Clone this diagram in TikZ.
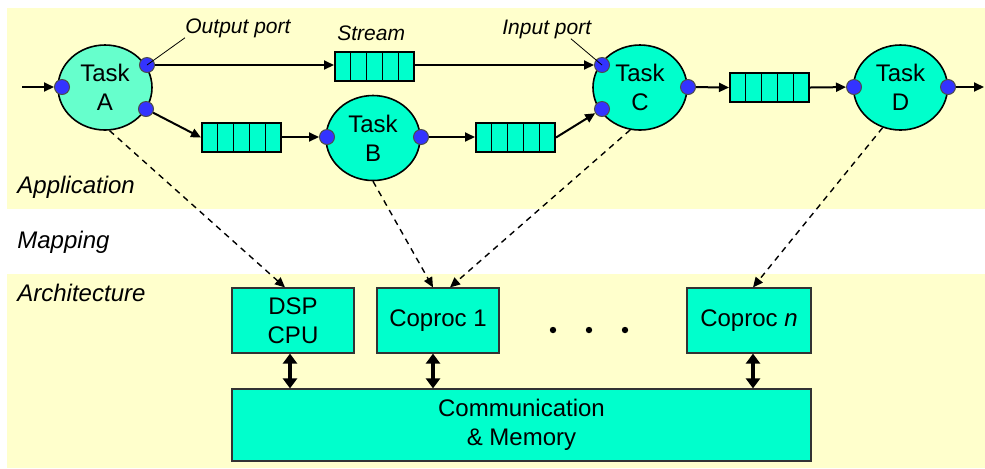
\documentclass[tikz,border=0pt]{standalone}
\usepackage{fontspec}
\setmainfont{Liberation Sans}
\usetikzlibrary{arrows.meta, shapes.geometric, calc}
\definecolor{appyellow}{HTML}{FFFFCC}
\definecolor{taskcyan}{HTML}{00FFCC}
\definecolor{tasklight}{HTML}{66FFCC}
\definecolor{portblue}{HTML}{3333FF}

\begin{document}
\begin{tikzpicture}[
x=0.5pt, y=-0.5pt,
>={Triangle[length=5pt,width=4.5pt]},
every node/.style={font=\fontsize{12}{14.5}\selectfont},
task/.style={ellipse, draw, line width=0.8pt, fill=taskcyan, minimum width=47pt, minimum height=42.5pt, inner sep=0pt, align=center},
port/.style={circle, draw=black!70, line width=0.5pt, fill=portblue, minimum size=7.5pt, inner sep=0pt},
queue/.style={rectangle, draw, line width=1pt, fill=taskcyan, minimum width=39.5pt, minimum height=14.5pt, inner sep=0pt},
unit/.style={rectangle, draw=black!80, line width=0.6pt, fill=taskcyan, minimum width=61pt, minimum height=32.5pt, inner sep=0pt, align=center},
note/.style={font=\fontsize{10.5}{12}\selectfont\itshape, inner sep=0pt, anchor=base west},
layer/.style={font=\fontsize{12}{14}\selectfont\itshape, inner sep=0pt, anchor=base west},
flow/.style={->, line width=1pt},
map/.style={->, dash pattern=on 3pt off 2.5pt, line width=0.7pt},
bus/.style={{Triangle[length=5pt,width=7pt]}-{Triangle[length=5pt,width=7pt]}, line width=2pt},
]
\useasboundingbox (0,0) rectangle (985,468);

% layers
\fill[appyellow] (7,8) rectangle (985,209);
\fill[appyellow] (7,274) rectangle (985,468);
\node[layer] (lApp) at (17,193) {Application};
\node[layer] (lMap) at (17,248) {Mapping};
\node[layer] (lArch) at (17,301) {Architecture};

% tasks
\node[task, fill=tasklight] (A) at (105,87.5) {Task\\A};
\node[task] (B) at (373,138) {Task\\B};
\node[task] (C) at (640,87.5) {Task\\C};
\node[task] (D) at (900.5,87.5) {Task\\D};

% ports
\node[port] (pAi) at (62,87) {};
\node[port] (pAo1) at (147,65) {};
\node[port] (pAo2) at (146,109) {};
\node[port] (pBi) at (327,137) {};
\node[port] (pBo) at (421,137) {};
\node[port] (pCi1) at (602,65) {};
\node[port] (pCi2) at (602,109) {};
\node[port] (pCo) at (688,87) {};
\node[port] (pDi) at (854,87) {};
\node[port] (pDo) at (948,87) {};

% streams
\node[queue] (qAC) at (374.5,66.5) {};
\node[queue] (qAB) at (241.5,137.5) {};
\node[queue] (qBC) at (515.5,137.5) {};
\node[queue] (qCD) at (769.5,87.5) {};
\foreach \q in {qAC,qAB,qBC,qCD}
  \foreach \i in {1,...,4}
    \draw[line width=0.6pt] ($(\q.north west)!\i/5!(\q.north east)$) -- ($(\q.south west)!\i/5!(\q.south east)$);

\coordinate (in) at (22,87);
\coordinate (out) at (984,87);
\draw[flow] (in) -- (pAi);
\draw[flow] (pAo1) -- (pAo1 -| qAC.west);
\draw[flow] (qAC.east |- pCi1) -- (pCi1);
\draw[flow] (pAo2) -- (qAB.west);
\draw[flow] (qAB.east |- pBi) -- (pBi);
\draw[flow] (pBo) -- (pBo -| qBC.west);
\draw[flow] (qBC.east) -- (pCi2);
\draw[flow] (pCo) -- (qCD.west);
\draw[flow] (qCD.east) -- (pDi);
\draw[flow] (pDo) -- (out);

% labels
\node[note] (lOut) at (185,33) {Output port};
\node[note] (lStream) at (337,40) {Stream};
\node[note] (lIn) at (502,34) {Input port};
\draw[line width=0.4pt] (lOut.south west) -- (pAo1.center);
\draw[line width=0.4pt] ($(lIn.south west)!0.77!(lIn.south east)$) -- (pCi1.center);

% architecture
\node[unit] (dsp) at (293,320.5) {DSP\\CPU};
\node[unit] (cp1) at (438,320.5) {Coproc 1};
\node[unit, minimum width=62pt] (cpn) at (749,320.5) {Coproc \textit{n}};
\node[unit, minimum width=289.5pt, minimum height=36pt] (comm) at (521.5,425) {Communication\\\& Memory};
\foreach \x in {553,589,625}
  \fill (\x,330) circle (1.6pt);

\draw[bus] ([xshift=-1.5pt]dsp.south) -- ([xshift=-1.5pt]dsp.south |- comm.north);
\draw[bus] ([xshift=-2.5pt]cp1.south) -- ([xshift=-2.5pt]cp1.south |- comm.north);
\draw[bus] ([xshift=2pt]cpn.south) -- ([xshift=2pt]cpn.south |- comm.north);

% mapping
\draw[map] (A.276) -- ([xshift=-4pt]dsp.north);
\draw[map] (B.south) -- ([xshift=-2.5pt]cp1.north);
\draw[map] (C.257) -- ([xshift=6pt]cp1.north);
\draw[map] (D.246) -- ([xshift=2pt]cpn.north);
\end{tikzpicture}
\end{document}
